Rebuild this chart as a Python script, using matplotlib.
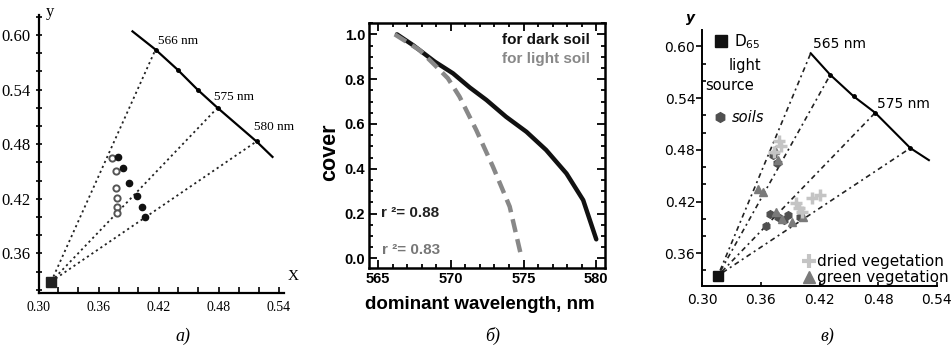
import matplotlib
matplotlib.use("Agg")
import matplotlib.pyplot as plt
from matplotlib.lines import Line2D
from matplotlib.ticker import MultipleLocator

# ---- panel a) chromaticity diagram, serif style ----
a_source_x = [0.3127]
a_source_y = [0.329]
a_locus_x = [0.394, 0.417, 0.439, 0.459, 0.479, 0.518, 0.534]
a_locus_y = [0.604, 0.584, 0.562, 0.540, 0.520, 0.483, 0.466]
a_lines_to = [1, 4, 5]                     # locus points joined to the source
a_labels = ['566 nm', '575 nm', '580 nm']
a_open_x = [0.373, 0.377, 0.377, 0.378, 0.378, 0.378]
a_open_y = [0.465, 0.451, 0.432, 0.421, 0.411, 0.404]
a_fill_x = [0.379, 0.384, 0.390, 0.398, 0.403, 0.406]
a_fill_y = [0.466, 0.454, 0.437, 0.423, 0.411, 0.400]

# ---- panel b) cover vs dominant wavelength ----
dark_wl = [566.3, 567.4, 568.9, 570.15, 571.3, 572.45, 573.8, 575.2, 576.55, 577.95, 579.1, 580.0]
dark_cover = [1.0, 0.952, 0.878, 0.826, 0.763, 0.707, 0.632, 0.565, 0.484, 0.379, 0.26, 0.085]
light_wl = [566.15, 567.85, 568.9, 569.8, 570.6, 571.75, 572.9, 574.05, 574.85]
light_cover = [1.0, 0.93, 0.863, 0.804, 0.722, 0.573, 0.409, 0.231, 0.007]
r2_dark = 0.88
r2_light = 0.83

# ---- panel в) chromaticity diagram with vegetation ----
c_source_x = [0.316]
c_source_y = [0.334]
c_locus_x = [0.411, 0.431, 0.455, 0.477, 0.513, 0.532]
c_locus_y = [0.592, 0.567, 0.542, 0.523, 0.482, 0.468]
c_lines_to = [0, 1, 3, 4]
c_labels = {0: '565 nm', 3: '575 nm'}
soil_x = [0.372, 0.376, 0.369, 0.378, 0.384, 0.388, 0.365, 0.400]
soil_y = [0.474, 0.465, 0.405, 0.402, 0.398, 0.404, 0.392, 0.402]
green_x = [0.374, 0.378, 0.357, 0.362, 0.375, 0.382, 0.392, 0.403]
green_y = [0.480, 0.468, 0.434, 0.431, 0.408, 0.400, 0.396, 0.402]
dried_x = [0.379, 0.381, 0.373, 0.396, 0.399, 0.402, 0.412, 0.421]
dried_y = [0.490, 0.484, 0.477, 0.418, 0.412, 0.408, 0.424, 0.427]

W, H = 951, 347
fig = plt.figure(figsize=(W / 100, H / 100), dpi=100)


def box(l, t, r, b):
    return [l / W, 1 - b / H, (r - l) / W, (b - t) / H]


dots = (0, (1.2, 1.8))

# ================= a) =================
serif = 'Liberation Serif'
ax = fig.add_axes(box(38.5, 15, 283.5, 293))
ax.set_xlim(0.30, 0.545)
ax.set_ylim(0.3164, 0.622)
for s in ['top', 'right']:
    ax.spines[s].set_visible(False)
for s in ['left', 'bottom']:
    ax.spines[s].set_linewidth(1.6)
for i in a_lines_to:
    ax.plot([a_source_x[0], a_locus_x[i]], [a_source_y[0], a_locus_y[i]],
            ls=dots, color='#222222', lw=1.3)
ax.plot(a_locus_x, a_locus_y, '-', color='black', lw=1.6,
        marker='o', ms=2.5, markevery=list(range(1, len(a_locus_x) - 1)))
offs = [(3, 3), (-3, 5), (-3, 8)]
for i, lab, o in zip(a_lines_to, a_labels, offs):
    ax.annotate(lab, (a_locus_x[i], a_locus_y[i]), xytext=o,
                textcoords='offset pixels', fontfamily=serif, fontsize=9.5,
                ha='left', va='bottom')
ax.plot(a_open_x, a_open_y, 'o', mfc='white', mec='#555555', mew=1.4, ms=4.5)
ax.plot(a_fill_x, a_fill_y, 'o', color='#111111', ms=4.5)
ax.plot(a_source_x, a_source_y, 's', color='#222222', ms=7)
ax.xaxis.set_major_locator(MultipleLocator(0.06))
ax.xaxis.set_minor_locator(MultipleLocator(0.02))
ax.yaxis.set_major_locator(MultipleLocator(0.06))
ax.yaxis.set_minor_locator(MultipleLocator(0.02))
ax.set_yticks([0.36, 0.42, 0.48, 0.54, 0.60])
ax.tick_params(axis='x', which='both', direction='in', length=4, width=1.2, pad=6)
ax.tick_params(axis='y', which='both', direction='inout', length=5, width=1.2, pad=3)
ax.set_xticklabels(['%.2f' % v for v in ax.get_xticks()], fontfamily=serif, fontsize=10)
ax.set_yticklabels(['%.2f' % v for v in ax.get_yticks()], fontfamily=serif, fontsize=12)
ax.text(0.047, 1.011, 'y', transform=ax.transAxes, fontfamily=serif, fontsize=12,
        ha='center', va='center')
ax.text(1.04, 0.06, 'X', transform=ax.transAxes, fontfamily=serif, fontsize=11,
        ha='center', va='center')

# ================= б) =================
sans = 'Liberation Sans'
bx = fig.add_axes(box(369.3, 22.7, 605, 268))
bx.set_xlim(564.4, 580.6)
bx.set_ylim(-0.043, 1.052)
bx.plot(dark_wl, dark_cover, '-', color='#111111', lw=3.2, solid_capstyle='round')
bx.plot(light_wl, light_cover, '--', color='#888888', lw=3.2, dashes=(3, 1.6))
for s in bx.spines.values():
    s.set_linewidth(1.8)
bx.xaxis.set_major_locator(MultipleLocator(5))
bx.xaxis.set_minor_locator(MultipleLocator(1))
bx.yaxis.set_major_locator(MultipleLocator(0.2))
bx.yaxis.set_minor_locator(MultipleLocator(0.05))
bx.tick_params(which='both', direction='in', top=True, right=True, width=1.3)
bx.tick_params(which='major', length=6, pad=3)
bx.tick_params(which='minor', length=3)
bx.set_xticks([565, 570, 575, 580])
bx.set_xticklabels(['565', '570', '575', '580'], fontfamily=sans, fontweight='bold', fontsize=10.5)
bx.set_yticks([0.0, 0.2, 0.4, 0.6, 0.8, 1.0])
bx.set_yticklabels(['%.1f' % v for v in bx.get_yticks()], fontfamily=sans,
                   fontweight='bold', fontsize=10.5)
bx.set_xlabel('dominant wavelength, nm', fontfamily=sans, fontweight='bold', fontsize=13.5)
bx.set_ylabel('cover', fontfamily=sans, fontweight='bold', fontsize=15.5)
bx.xaxis.set_label_coords(0.47, -0.115)
bx.yaxis.set_label_coords(-0.124, 0.47)
bx.text(0.936, 0.93, 'for dark soil', transform=bx.transAxes, ha='right', va='center',
        fontfamily=sans, fontweight='bold', fontsize=11, color='#111111')
bx.text(0.936, 0.85, 'for light soil', transform=bx.transAxes, ha='right', va='center',
        fontfamily=sans, fontweight='bold', fontsize=11, color='#888888')
bx.text(0.048, 0.225, 'r \u00b2= %.2f' % r2_dark, transform=bx.transAxes, va='center',
        fontfamily=sans, fontweight='bold', fontsize=11, color='#222222')
bx.text(0.053, 0.073, 'r \u00b2= %.2f' % r2_light, transform=bx.transAxes, va='center',
        fontfamily=sans, fontweight='bold', fontsize=11, color='#777777')

# ================= в) =================
dv = 'DejaVu Sans'
cx = fig.add_axes(box(702.3, 30, 936.7, 286))
cx.set_xlim(0.30, 0.54)
cx.set_ylim(0.322, 0.619)
for s in ['top', 'right']:
    cx.spines[s].set_visible(False)
for s in ['left', 'bottom']:
    cx.spines[s].set_linewidth(1.4)
for i in c_lines_to:
    cx.plot([c_source_x[0], c_locus_x[i]], [c_source_y[0], c_locus_y[i]],
            ls=(0, (1.2, 2.2, 3, 2.2)), color='#222222', lw=1.2)
cx.plot(c_locus_x, c_locus_y, '-', color='black', lw=1.5,
        marker='o', ms=2.5, markevery=list(range(1, len(c_locus_x) - 1)))
for i, lab in c_labels.items():
    cx.annotate(lab, (c_locus_x[i], c_locus_y[i]), xytext=(2, 2),
                textcoords='offset pixels', fontfamily=dv, fontsize=10,
                ha='left', va='bottom')
cx.plot(soil_x, soil_y, 'h', color='#505050', ms=5.5)
cx.plot(green_x, green_y, '^', color='#7a7a7a', ms=5.5)
cx.plot(dried_x, dried_y, '+', color='#c4c4c4', ms=8, mew=2.5)
cx.plot(c_source_x, c_source_y, 's', color='#111111', ms=7)
cx.xaxis.set_major_locator(MultipleLocator(0.06))
cx.yaxis.set_major_locator(MultipleLocator(0.06))
cx.yaxis.set_minor_locator(MultipleLocator(0.02))
cx.set_xticks([0.30, 0.36, 0.42, 0.48, 0.54])
cx.set_yticks([0.36, 0.42, 0.48, 0.54, 0.60])
cx.tick_params(axis='x', direction='in', length=3, width=1.2, pad=5)
cx.tick_params(axis='y', which='major', direction='out', length=4, width=1.2, pad=1)
cx.tick_params(axis='y', which='minor', direction='in', length=3, width=1.2)
cx.set_xticklabels(['%.2f' % v for v in cx.get_xticks()], fontfamily=dv, fontsize=10)
cx.set_yticklabels(['%.2f' % v for v in cx.get_yticks()], fontfamily=dv, fontsize=10)
cx.text(-0.052, 1.02, 'y', transform=cx.transAxes, fontfamily=dv, fontsize=10,
        fontweight='bold', fontstyle='italic', ha='center', va='bottom')

leg1 = cx.legend([Line2D([], [], marker='s', color='#111111', ls='none', ms=8)],
                 ['D$_{65}$'], loc='upper left', bbox_to_anchor=(-0.01, 1.045),
                 frameon=False, handletextpad=0.3, handlelength=1.0,
                 prop={'family': dv, 'size': 11})
cx.add_artist(leg1)
cx.text(0.182, 0.863, 'light', transform=cx.transAxes, ha='center', va='center',
        fontfamily=dv, fontsize=10.5)
cx.text(0.117, 0.785, 'source', transform=cx.transAxes, ha='center', va='center',
        fontfamily=dv, fontsize=10.5)
leg2 = cx.legend([Line2D([], [], marker='h', color='#505050', ls='none', ms=7)],
                 ['soils'], loc='upper left', bbox_to_anchor=(-0.01, 0.74),
                 frameon=False, handletextpad=0.3, handlelength=1.0,
                 prop={'family': dv, 'size': 10.5, 'style': 'italic'})
cx.add_artist(leg2)
cx.legend([Line2D([], [], marker='+', color='#c4c4c4', ls='none', ms=10, mew=3),
           Line2D([], [], marker='^', color='#7a7a7a', ls='none', ms=8)],
          ['dried vegetation', 'green vegetation'], loc='lower right',
          bbox_to_anchor=(1.11, -0.05), frameon=False, handletextpad=0.1,
          handlelength=0.9, labelspacing=0.05, prop={'family': dv, 'size': 11})

# captions
for xc, cap in [(183, 'a)'), (493, '\u0431)'), (827, '\u0432)')]:
    fig.text(xc / W, 1 - 336 / H, cap, fontfamily=serif, fontstyle='italic',
             fontsize=13, ha='center', va='center')

fig.savefig('out.png', dpi=100)
